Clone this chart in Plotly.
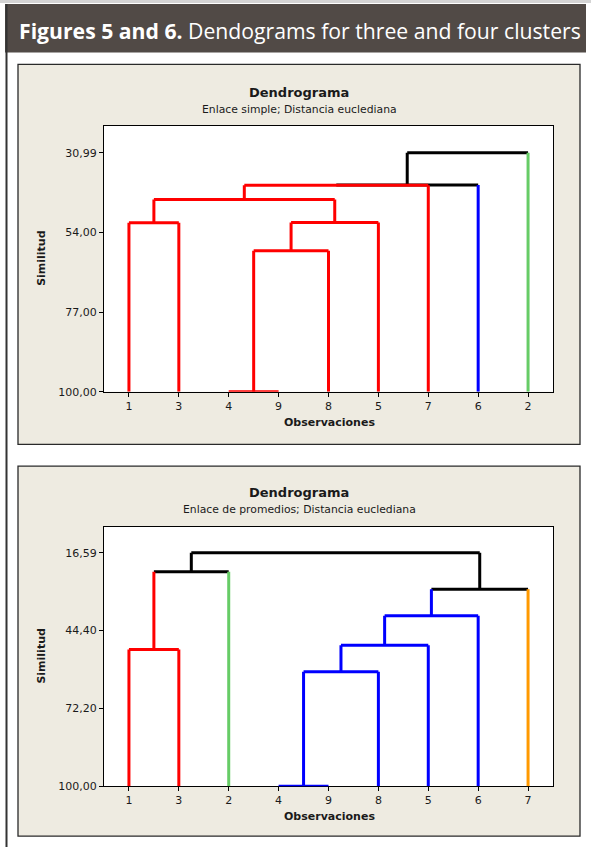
import plotly.graph_objects as go

W, H = 591, 854

RED = "#ff0000"
BLUE = "#0000ff"
GREEN = "#66cc66"
BLACK = "#000000"
ORANGE = "#ff9900"

# ---------------- Figure 5: single linkage ----------------
top_leaves = ["1", "3", "4", "9", "8", "5", "7", "6", "2"]
top_leaf_colors = [RED, RED, RED, RED, RED, RED, RED, BLUE, GREEN]
# merges: node ids 0-8 are leaves, 9+ are merges in order
top_left = [2, 0, 9, 11, 10, 13, 14, 15]
top_right = [3, 1, 4, 5, 12, 6, 7, 8]
top_sim = [100.00, 51.2, 59.3, 51.1, 44.5, 40.35, 40.3, 30.99]
top_merge_colors = [RED, RED, RED, RED, RED, RED, BLACK, BLACK]
top_ticks = [30.99, 54.00, 77.00, 100.00]
top_tick_text = ["30,99", "54,00", "77,00", "100,00"]
top_range = [100.0, 23.26]

# ---------------- Figure 6: average linkage ----------------
bot_leaves = ["1", "3", "2", "4", "9", "8", "5", "6", "7"]
bot_leaf_colors = [RED, RED, GREEN, BLUE, BLUE, BLUE, BLUE, BLUE, ORANGE]
bot_left = [3, 0, 9, 11, 12, 10, 13, 14]
bot_right = [4, 1, 5, 6, 7, 2, 8, 15]
bot_sim = [100.00, 51.2, 59.1, 49.65, 39.1, 23.4, 29.65, 16.59]
bot_merge_colors = [BLUE, RED, BLUE, BLUE, BLUE, BLACK, BLACK, BLACK]
bot_ticks = [16.59, 44.40, 72.20, 100.00]
bot_tick_text = ["16,59", "44,40", "72,20", "100,00"]
bot_range = [100.0, 7.27]


def segments(leaves, leaf_colors, left, right, sim, merge_colors):
    n = len(leaves)
    xs = list(range(n))
    hs = [100.0] * n
    cols = list(leaf_colors)
    segs = []
    for l, r, s, c in zip(left, right, sim, merge_colors):
        xl, xr = xs[l], xs[r]
        segs.append((cols[l], [xl, xl], [hs[l], s]))
        segs.append((cols[r], [xr, xr], [hs[r], s]))
        segs.append((c, [xl, xr], [s, s]))
        xs.append((xl + xr) / 2)
        hs.append(s)
        cols.append(c)
    return segs


def add_dendro(fig, segs, xa, ya):
    order = [BLACK, GREEN, ORANGE, BLUE, RED]
    for col in order:
        xx, yy = [], []
        for c, sx, sy in segs:
            if c == col:
                xx += sx + [None]
                yy += sy + [None]
        if xx:
            fig.add_trace(go.Scatter(x=xx, y=yy, mode="lines",
                                     line=dict(color=col, width=3),
                                     cliponaxis=False, hoverinfo="skip",
                                     showlegend=False, xaxis=xa, yaxis=ya))


fig = go.Figure()
add_dendro(fig, segments(top_leaves, top_leaf_colors, top_left, top_right,
                         top_sim, top_merge_colors), "x", "y")
add_dendro(fig, segments(bot_leaves, bot_leaf_colors, bot_left, bot_right,
                         bot_sim, bot_merge_colors), "x2", "y2")


def px(x):
    return x / W


def py(y):
    return 1 - y / H


TXT = "#1a1a1a"
tickfont = dict(family="DejaVu Sans", size=11, color=TXT)

plot_x = [104, 553]
top_y = [127, 395]
bot_y = [531, 792.7]


def xaxis_cfg(leaves, anchor):
    return dict(domain=[px(plot_x[0]), px(plot_x[1])], anchor=anchor,
                range=[-0.5, len(leaves) - 0.5], tickmode="array",
                tickvals=list(range(len(leaves))), ticktext=leaves,
                ticks="outside", ticklen=4, tickwidth=1, tickcolor=BLACK,
                showline=True, linecolor=BLACK, linewidth=1, mirror=True,
                showgrid=False, zeroline=False, tickfont=tickfont,
                layer="below traces", fixedrange=True)


def yaxis_cfg(ticks, text, rng, ydom, anchor):
    return dict(domain=[py(ydom[1]), py(ydom[0])], anchor=anchor,
                range=rng, tickmode="array", tickvals=ticks, ticktext=text,
                ticks="outside", ticklen=4, tickwidth=1, tickcolor=BLACK,
                showline=True, linecolor=BLACK, linewidth=1, mirror=True,
                showgrid=False, zeroline=False, tickfont=tickfont,
                layer="below traces", fixedrange=True)


shapes = [
    # top light line
    dict(type="rect", x0=0, x1=1, y0=py(3), y1=1, fillcolor="#d4d4d4", line=dict(width=0)),
    # header band
    dict(type="rect", x0=px(5), x1=px(586), y0=py(53), y1=py(4), fillcolor="#514a46", line=dict(width=0)),
    # left border
    dict(type="line", x0=px(6.5), x1=px(6.5), y0=0, y1=py(4), line=dict(color="#333333", width=2)),
    # panels
    dict(type="rect", x0=px(18), x1=px(580), y0=py(448), y1=py(65), fillcolor="#eeebe1",
         line=dict(color="#2a2a2a", width=1.3)),
    dict(type="rect", x0=px(18), x1=px(580), y0=py(843), y1=py(470), fillcolor="#eeebe1",
         line=dict(color="#2a2a2a", width=1.3)),
    # white plot areas
    dict(type="rect", x0=px(plot_x[0]), x1=px(plot_x[1]), y0=py(top_y[1]), y1=py(top_y[0]),
         fillcolor="white", line=dict(width=0)),
    dict(type="rect", x0=px(plot_x[0]), x1=px(plot_x[1]), y0=py(bot_y[1]), y1=py(bot_y[0]),
         fillcolor="white", line=dict(width=0)),
]
for s in shapes:
    s.update(xref="paper", yref="paper", layer="below")

cx = px(299)
ann = [
    dict(text="<b>Figures 5 and 6.</b> Dendograms for three and four clusters",
         x=px(17), y=py(31), xanchor="left", yanchor="middle",
         font=dict(family="Open Sans", size=21.2, color="white")),
    dict(text="<b>Dendrograma</b>", x=cx, y=py(93), xanchor="center", yanchor="middle",
         font=dict(family="DejaVu Sans", size=13, color=TXT)),
    dict(text="Enlace simple; Distancia euclediana", x=cx, y=py(110), xanchor="center",
         yanchor="middle", font=dict(family="DejaVu Sans", size=10.8, color=TXT)),
    dict(text="<b>Observaciones</b>", x=px(329), y=py(426), xanchor="center", yanchor="middle",
         font=dict(family="DejaVu Sans", size=11, color=TXT)),
    dict(text="<b>Similitud</b>", x=px(42), y=py(261), xanchor="center", yanchor="middle",
         textangle=-90, font=dict(family="DejaVu Sans", size=11, color=TXT)),
    dict(text="<b>Dendrograma</b>", x=cx, y=py(497), xanchor="center", yanchor="middle",
         font=dict(family="DejaVu Sans", size=13, color=TXT)),
    dict(text="Enlace de promedios; Distancia euclediana", x=cx, y=py(514), xanchor="center",
         yanchor="middle", font=dict(family="DejaVu Sans", size=10.8, color=TXT)),
    dict(text="<b>Observaciones</b>", x=px(329), y=py(823), xanchor="center", yanchor="middle",
         font=dict(family="DejaVu Sans", size=11, color=TXT)),
    dict(text="<b>Similitud</b>", x=px(42), y=py(662), xanchor="center", yanchor="middle",
         textangle=-90, font=dict(family="DejaVu Sans", size=11, color=TXT)),
]
for a in ann:
    a.update(xref="paper", yref="paper", showarrow=False)

fig.update_layout(
    width=W, height=H, autosize=False,
    margin=dict(l=0, r=0, t=0, b=0),
    paper_bgcolor="white", plot_bgcolor="white",
    showlegend=False,
    xaxis=xaxis_cfg(top_leaves, "y"),
    yaxis=yaxis_cfg(top_ticks, top_tick_text, top_range, top_y, "x"),
    xaxis2=xaxis_cfg(bot_leaves, "y2"),
    yaxis2=yaxis_cfg(bot_ticks, bot_tick_text, bot_range, bot_y, "x2"),
    shapes=shapes,
    annotations=ann,
)

fig.write_html(
    "out.html",
    config={"displayModeBar": False},
    post_script="document.body.style.margin='0';document.body.style.overflow='hidden';",
)
